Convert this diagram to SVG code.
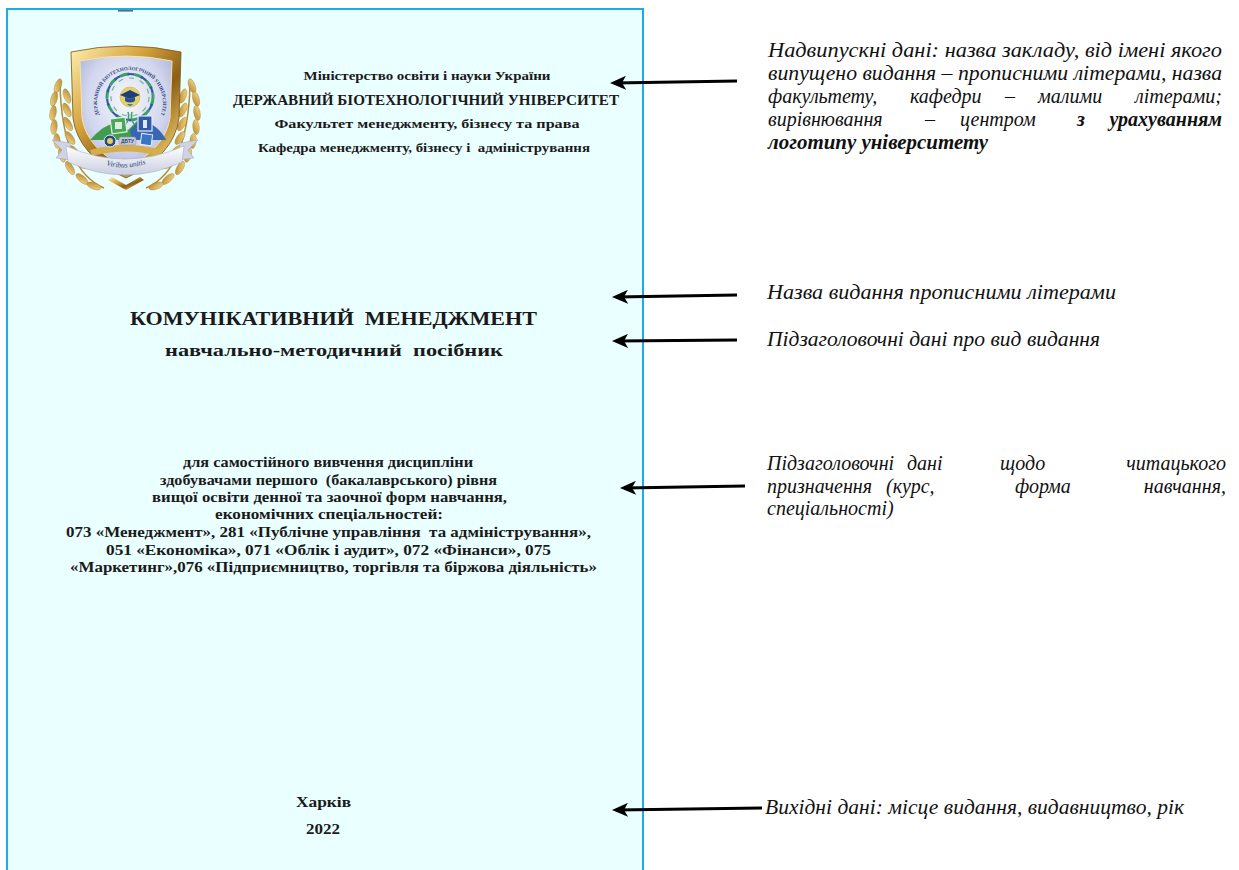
<svg xmlns="http://www.w3.org/2000/svg" width="1239" height="870" viewBox="0 0 1239 870">
<style>
  .hdr { font-family: "Liberation Serif", "Times New Roman", serif; font-weight: bold; fill: #1a1a1a; }
  .ann { font-family: "Liberation Serif", "Times New Roman", serif; font-style: italic; font-size: 20px; fill: #111; }
  .annb { font-weight: bold; }
  .arrow { stroke: #000; stroke-width: 3; fill: none; marker-end: url(#ah); }
</style>
<defs>
  <marker id="ah" viewBox="0 0 16 14" refX="12" refY="7" markerWidth="16" markerHeight="14" markerUnits="userSpaceOnUse" orient="auto">
    <path d="M0,0 L16,7 L0,14 L4,7 Z" fill="#000"/>
  </marker>
  <linearGradient id="gold" x1="0" y1="0" x2="1" y2="1">
    <stop offset="0" stop-color="#fff0b0"/>
    <stop offset="0.35" stop-color="#d4a23c"/>
    <stop offset="0.6" stop-color="#8c5f18"/>
    <stop offset="0.85" stop-color="#e6c063"/>
    <stop offset="1" stop-color="#9a6a1c"/>
  </linearGradient>
  <radialGradient id="field" cx="0.5" cy="0.4" r="0.7">
    <stop offset="0" stop-color="#f6f7fc"/>
    <stop offset="0.6" stop-color="#d3d7ee"/>
    <stop offset="1" stop-color="#a3abd3"/>
  </radialGradient>
  <linearGradient id="leaf" x1="0" y1="0" x2="1" y2="1">
    <stop offset="0" stop-color="#f3dc8e"/>
    <stop offset="1" stop-color="#b8862c"/>
  </linearGradient>
  <linearGradient id="ribbon" x1="0" y1="0" x2="0" y2="1">
    <stop offset="0" stop-color="#ffffff"/>
    <stop offset="1" stop-color="#c9cde0"/>
  </linearGradient>
  <path id="ringtext" d="M103,122 A33,33 0 1,1 157,122"/>
  <path id="ribtext" d="M92,160 Q125,176 160,158"/>
  <ellipse id="lf" cx="0" cy="0" rx="7.5" ry="3.2" fill="url(#leaf)" stroke="#a87a26" stroke-width="0.4"/>
</defs>

<!-- page -->
<g id="page">
  <rect x="7" y="9" width="636" height="880" fill="#eaffff" stroke="#1cade6" stroke-width="2"/>
  <rect x="118" y="10" width="15" height="1.6" fill="#566d7c"/>
</g>

<!-- logo -->
<g id="logo">
  <g id="laurel-left">
    <path d="M104,188 Q62,170 60,84" stroke="#b8892e" stroke-width="1.5" fill="none"/>
    <use href="#lf" transform="translate(58,86) rotate(-70)"/>
    <use href="#lf" transform="translate(54,99) rotate(-75)"/>
    <use href="#lf" transform="translate(67,96) rotate(-110)"/>
    <use href="#lf" transform="translate(53,113) rotate(-80)"/>
    <use href="#lf" transform="translate(67,110) rotate(-115)"/>
    <use href="#lf" transform="translate(54,127) rotate(-85)"/>
    <use href="#lf" transform="translate(68,124) rotate(-120)"/>
    <use href="#lf" transform="translate(57,141) rotate(-95)"/>
    <use href="#lf" transform="translate(70,138) rotate(-125)"/>
    <use href="#lf" transform="translate(62,155) rotate(-105)"/>
    <use href="#lf" transform="translate(74,151) rotate(-135)"/>
    <use href="#lf" transform="translate(70,168) rotate(-120)"/>
    <use href="#lf" transform="translate(81,164) rotate(-150)"/>
    <use href="#lf" transform="translate(82,179) rotate(-140)"/>
    <use href="#lf" transform="translate(94,186) rotate(-160)"/>
  </g>
  <g id="laurel-right">
    <path d="M146,188 Q188,170 190,84" stroke="#b8892e" stroke-width="1.5" fill="none"/>
    <use href="#lf" transform="translate(192,86) rotate(70)"/>
    <use href="#lf" transform="translate(196,99) rotate(75)"/>
    <use href="#lf" transform="translate(183,96) rotate(110)"/>
    <use href="#lf" transform="translate(197,113) rotate(80)"/>
    <use href="#lf" transform="translate(183,110) rotate(115)"/>
    <use href="#lf" transform="translate(196,127) rotate(85)"/>
    <use href="#lf" transform="translate(182,124) rotate(120)"/>
    <use href="#lf" transform="translate(193,141) rotate(95)"/>
    <use href="#lf" transform="translate(180,138) rotate(125)"/>
    <use href="#lf" transform="translate(188,155) rotate(105)"/>
    <use href="#lf" transform="translate(176,151) rotate(135)"/>
    <use href="#lf" transform="translate(180,168) rotate(120)"/>
    <use href="#lf" transform="translate(169,164) rotate(150)"/>
    <use href="#lf" transform="translate(168,179) rotate(140)"/>
    <use href="#lf" transform="translate(156,186) rotate(160)"/>
  </g>
  <!-- shield -->
  <path d="M71,52 Q126,40 181,52 L179,118 Q174,156 126,178 Q78,156 73,118 Z" fill="url(#gold)" stroke="#7a5214" stroke-width="0.8"/>
  <path d="M80,61 Q126,51 172,61 L170,118 Q165,149 126,168 Q87,149 82,118 Z" fill="url(#field)" stroke="#f5e4a8" stroke-width="1"/>
  <!-- ring text -->
  <text font-family="Liberation Serif, serif" font-size="5" font-weight="bold" fill="#2f4684"><textPath href="#ringtext" startOffset="50%" text-anchor="middle">ДЕРЖАВНИЙ БІОТЕХНОЛОГІЧНИЙ УНІВЕРСИТЕТ</textPath></text>
  <!-- DNA ring -->
  <circle cx="130" cy="97" r="23" fill="none" stroke="#3f9e6e" stroke-width="3" stroke-dasharray="9 5"/>
  <circle cx="130" cy="97" r="23" fill="none" stroke="#2f5aa6" stroke-width="2.2" stroke-dasharray="7 7" stroke-dashoffset="7"/>
  <circle cx="130" cy="97" r="19" fill="none" stroke="#6fb98a" stroke-width="1.2" stroke-dasharray="5 6"/>
  <!-- centre -->
  <circle cx="130" cy="97" r="10" fill="#e6d06a" stroke="#c8b24a" stroke-width="0.6"/>
  <path d="M120,95 L130,90 L140,95 L130,99 Z" fill="#1f3f7a"/>
  <path d="M125,97 L125,101 Q130,104 135,101 L135,97 L130,99 Z" fill="#2a4f90"/>
  <path d="M127,104 Q130,108 133,104" fill="#4a78b8"/>
  <path d="M128,112 Q130,118 126,124 M132,112 Q130,118 134,124" stroke="#3f9e6e" stroke-width="1.5" fill="none"/>
  <!-- hills -->
  <path d="M90,140 Q104,124 118,122 L128,130 L138,120 Q156,124 166,140 Z" fill="#3f9d4c"/>
  <path d="M130,130 L140,120 Q158,124 166,140 L132,140 Z" fill="#3767b2"/>
  <!-- squares -->
  <rect x="111" y="118" width="15" height="15" fill="#4aa65c" stroke="#e7f2ea" stroke-width="1.2" transform="rotate(-8 118 125)"/>
  <rect x="115" y="122" width="7" height="7" fill="#d8efdb"/>
  <rect x="138" y="116" width="14" height="15" fill="#2e5aa8" stroke="#e6ebf6" stroke-width="1.2"/>
  <rect x="143" y="120" width="4" height="8" fill="#e0e6f3"/>
  <!-- lower icons -->
  <path d="M90,150 Q126,140 162,150 L160,156 Q126,147 92,156 Z" fill="#d5ad4a"/>
  <circle cx="110" cy="141" r="6" fill="#234a8c" stroke="#e8ecf6" stroke-width="1"/>
  <circle cx="110" cy="141" r="3" fill="#e6cc58"/>
  <rect x="119" y="137" width="17" height="8" rx="2" fill="#c6c9d6" stroke="#8b8fa3" stroke-width="0.5"/>
  <text x="127.5" y="143.2" font-family="Liberation Sans, sans-serif" font-size="5" font-weight="bold" fill="#3a4b78" text-anchor="middle">ДБТУ</text>
  <rect x="141" y="134" width="11" height="11" fill="#3a76c4" stroke="#e8eef8" stroke-width="1" transform="rotate(8 146 139)"/>
  <!-- ribbon -->
  <path d="M52,140 L70,143 L72,160 L56,158 L62,150 Z" fill="#cfd3e3" stroke="#9aa0bb" stroke-width="0.5"/>
  <path d="M198,140 L180,143 L178,160 L194,158 L188,150 Z" fill="#cfd3e3" stroke="#9aa0bb" stroke-width="0.5"/>
  <path d="M66,146 Q125,172 184,146 L182,162 Q125,188 68,162 Z" fill="url(#ribbon)" stroke="#a7adc6" stroke-width="0.6"/>
  <text font-family="Liberation Serif, serif" font-size="7.5" font-style="italic" fill="#2a3d78"><textPath href="#ribtext" startOffset="50%" text-anchor="middle">Viribus unitis</textPath></text>
  <!-- bottom chevron -->
  <path d="M108,180 L126,190 L144,180 L140,177 L126,185 L112,177 Z" fill="url(#gold)"/>
</g>

<!-- page texts -->
<g id="header">
  <text class="hdr" x="427" y="80" font-size="13" text-anchor="middle" textLength="247" lengthAdjust="spacingAndGlyphs">Міністерство освіти і науки України</text>
  <text class="hdr" x="426" y="105" font-size="14" text-anchor="middle" textLength="386" lengthAdjust="spacingAndGlyphs">ДЕРЖАВНИЙ БІОТЕХНОЛОГІЧНИЙ УНІВЕРСИТЕТ</text>
  <text class="hdr" x="427" y="128" font-size="13" text-anchor="middle" textLength="305" lengthAdjust="spacingAndGlyphs">Факультет менеджменту, бізнесу та права</text>
  <text class="hdr" x="424" y="152" font-size="13" text-anchor="middle" textLength="332" lengthAdjust="spacingAndGlyphs" xml:space="preserve">Кафедра менеджменту, бізнесу і  адміністрування</text>
</g>

<g id="title">
  <text class="hdr" x="333.5" y="325" font-size="19" text-anchor="middle" textLength="407" lengthAdjust="spacingAndGlyphs" xml:space="preserve">КОМУНІКАТИВНИЙ  МЕНЕДЖМЕНТ</text>
</g>

<g id="subtitle">
  <text class="hdr" x="334" y="356" font-size="17" text-anchor="middle" textLength="338" lengthAdjust="spacingAndGlyphs" xml:space="preserve">навчально-методичний  посібник</text>
</g>

<g id="purpose">
  <text class="hdr" x="328" y="467" font-size="14" text-anchor="middle" textLength="290" lengthAdjust="spacingAndGlyphs">для самостійного вивчення дисципліни</text>
  <text class="hdr" x="328.5" y="485" font-size="14" text-anchor="middle" textLength="337" lengthAdjust="spacingAndGlyphs" xml:space="preserve">здобувачами першого  (бакалаврського) рівня</text>
  <text class="hdr" x="329.5" y="502" font-size="14" text-anchor="middle" textLength="355" lengthAdjust="spacingAndGlyphs">вищої освіти денної та заочної форм навчання,</text>
  <text class="hdr" x="329" y="519" font-size="14" text-anchor="middle" textLength="228" lengthAdjust="spacingAndGlyphs">економічних спеціальностей:</text>
  <text class="hdr" x="328.5" y="537" font-size="14" text-anchor="middle" textLength="525" lengthAdjust="spacingAndGlyphs" xml:space="preserve">073 «Менеджмент», 281 «Публічне управління  та адміністрування»,</text>
  <text class="hdr" x="328.5" y="555" font-size="14" text-anchor="middle" textLength="445" lengthAdjust="spacingAndGlyphs">051 «Економіка», 071 «Облік і аудит», 072 «Фінанси», 075</text>
  <text class="hdr" x="333.5" y="572" font-size="14" text-anchor="middle" textLength="527" lengthAdjust="spacingAndGlyphs">«Маркетинг»,076 «Підприємництво, торгівля та біржова діяльність»</text>
</g>

<g id="imprint">
  <text class="hdr" x="323.5" y="807" font-size="14" text-anchor="middle" textLength="55" lengthAdjust="spacingAndGlyphs">Харків</text>
  <text class="hdr" x="323" y="834" font-size="14" text-anchor="middle" textLength="34" lengthAdjust="spacingAndGlyphs">2022</text>
</g>

<!-- annotations -->
<g id="note-top">
  <text class="ann" x="768" y="57" textLength="454" lengthAdjust="spacingAndGlyphs">Надвипускні дані: назва закладу, від імені якого</text>
  <text class="ann" x="768" y="80" textLength="454" lengthAdjust="spacingAndGlyphs">випущено видання – прописними літерами, назва</text>
  <text class="ann" y="103"><tspan x="768">факультету,</tspan><tspan x="910">кафедри</tspan><tspan x="1005">–</tspan><tspan x="1038">малими</tspan><tspan x="1222" text-anchor="end">літерами;</tspan></text>
  <text class="ann" y="126"><tspan x="768">вирівнювання</tspan><tspan x="925">–</tspan><tspan x="960">центром</tspan><tspan class="annb" x="1077">з</tspan><tspan class="annb" x="1222" text-anchor="end">урахуванням</tspan></text>
  <text class="ann annb" x="768" y="149" textLength="220" lengthAdjust="spacingAndGlyphs">логотипу університету</text>
</g>
<g id="note-title">
  <text class="ann" x="767" y="299" textLength="349" lengthAdjust="spacingAndGlyphs">Назва видання прописними літерами</text>
</g>
<g id="note-subtitle">
  <text class="ann" x="767" y="346" textLength="333" lengthAdjust="spacingAndGlyphs">Підзаголовочні дані про вид видання</text>
</g>
<g id="note-purpose">
  <text class="ann" y="470"><tspan x="767">Підзаголовочні</tspan><tspan x="907">дані</tspan><tspan x="1000">щодо</tspan><tspan x="1226" text-anchor="end">читацького</tspan></text>
  <text class="ann" y="493"><tspan x="767">призначення</tspan><tspan x="886">(курс,</tspan><tspan x="1015">форма</tspan><tspan x="1226" text-anchor="end">навчання,</tspan></text>
  <text class="ann" x="767" y="515">спеціальності)</text>
</g>
<g id="note-imprint">
  <text class="ann" x="765" y="814" textLength="419" lengthAdjust="spacingAndGlyphs">Вихідні дані: місце видання, видавництво, рік</text>
</g>

<g id="connectors">
  <line class="arrow" x1="737" y1="81" x2="614" y2="83"/>
  <line class="arrow" x1="737" y1="295" x2="616" y2="297"/>
  <line class="arrow" x1="737" y1="340" x2="616" y2="341"/>
  <line class="arrow" x1="745" y1="486" x2="624" y2="488"/>
  <line class="arrow" x1="762" y1="808" x2="616" y2="810"/>
</g>
</svg>
